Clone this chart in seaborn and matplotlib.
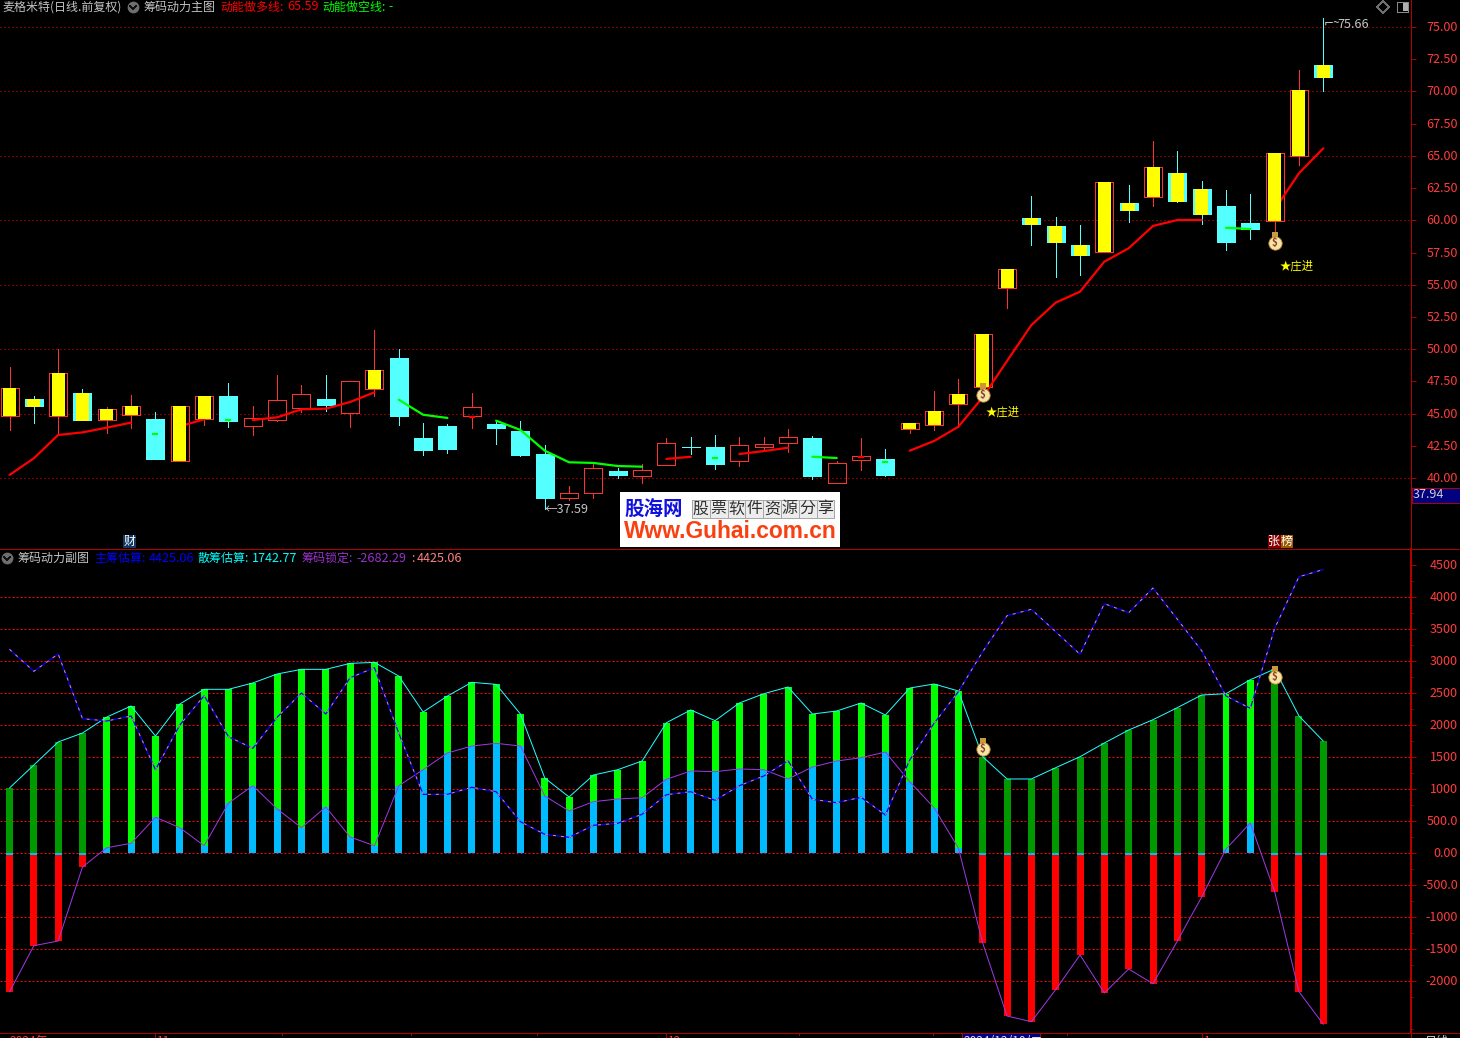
import numpy as np
import pandas as pd
import matplotlib
matplotlib.use("Agg")
import matplotlib.pyplot as plt
import matplotlib.transforms as mtrans
from matplotlib.patches import Rectangle
import seaborn as sns

nan = np.nan

# ---------------------------------------------------------------------
# Candles (price pane)
# y = red box + yellow fill, b = cyan box + yellow fill, r = hollow red, c = cyan
# ---------------------------------------------------------------------
kinds = list("ybybyycyycrrrcrycccrccc" "rrcrrcc" "rrrcrrc" "yyyyybbbybybbccyyb")
body_top = [46.99, 46.13, 48.15, 46.60, 45.36, 45.59, 44.58, 45.59, 46.36, 46.36, 44.66,
            46.06, 46.52, 46.13, 47.53, 48.38, 49.31, 43.11, 44.00, 45.51, 44.19, 43.65,
            41.86, 38.82, 40.75, 40.55, 40.60, 42.70, 42.41, 42.41, 42.54, 42.62, 43.16,
            43.11, 41.14, 41.68, 41.48, 44.27, 45.20, 46.50, 51.18, 56.22, 60.18, 59.56,
            58.08, 62.97, 61.34, 64.14, 63.67, 62.43, 61.11, 59.79, 65.22, 70.11, 72.05]
body_bot = [44.84, 45.59, 44.84, 44.52, 44.53, 44.91, 41.48, 41.34, 44.60, 44.45, 44.06,
            44.53, 45.46, 45.67, 45.07, 46.93, 44.84, 42.20, 42.27, 44.84, 43.88, 41.81,
            38.47, 38.47, 38.86, 40.24, 40.18, 41.03, 42.37, 41.11, 41.34, 42.43, 42.70,
            40.18, 39.64, 41.42, 40.24, 43.83, 44.11, 45.77, 47.09, 54.77, 59.71, 58.32,
            57.31, 57.56, 60.80, 61.83, 61.50, 60.49, 58.32, 59.32, 59.97, 65.01, 71.12]
high = [48.62, 46.36, 50.01, 46.91, 45.51, 46.44, 45.12, 45.59, 46.36, 47.37, 45.59,
        48.00, 47.22, 48.00, 47.53, 51.49, 50.01, 44.27, 44.19, 46.60, 44.50, 44.42,
        42.56, 39.38, 41.09, 40.80, 41.09, 43.13, 43.18, 43.34, 43.18, 43.18, 43.80,
        43.26, 41.32, 43.11, 42.25, 44.27, 46.75, 47.68, 51.18, 56.22, 61.89, 60.26,
        59.64, 62.97, 62.74, 66.15, 65.38, 63.05, 62.35, 62.04, 65.22, 71.66, 75.66]
low = [43.75, 44.30, 43.52, 44.50, 43.52, 43.91, 41.48, 41.34, 44.12, 43.98, 43.36,
       44.45, 45.15, 45.20, 43.98, 46.39, 44.12, 41.81, 41.97, 43.91, 42.66, 41.73,
       37.59, 38.32, 38.47, 40.03, 39.64, 41.03, 41.89, 40.70, 40.96, 42.12, 42.04,
       39.95, 39.64, 40.65, 40.16, 43.52, 43.73, 43.98, 46.60, 53.20, 58.08, 55.60,
       55.76, 57.56, 59.87, 61.11, 61.42, 59.71, 57.70, 58.55, 58.86, 64.29, 70.04]

long_line = [40.24, 41.53, 43.34, 43.54, 43.91, 44.30, nan, 44.01, 44.56, nan, 44.50,
             44.71, 45.33, 45.38, 45.90, 46.65, nan, nan, nan, 44.76, nan, nan,
             nan, nan, nan, nan, nan, 41.48, 41.65, nan, 41.86, 42.09, 42.35,
             nan, nan, 41.62, nan, 42.12, 42.87, 43.98, 46.27, 49.08, 51.87, 53.61,
             54.46, 56.79, 57.83, 59.56, 60.02, 60.02, nan, nan, 60.85, 63.65, 65.59]
short_line = [nan, nan, nan, nan, nan, nan, 43.42, nan, nan, 44.50, nan,
              nan, nan, nan, nan, nan, 46.08, 44.91, 44.66, nan, 44.45, 43.73,
              42.12, 41.22, 41.17, 40.93, 40.88, nan, nan, 41.55, nan, nan, nan,
              41.65, 41.55, nan, 41.24, nan, nan, nan, nan, nan, nan, nan,
              nan, nan, nan, nan, nan, nan, 59.42, 59.32, nan, nan, nan]

# ---------------------------------------------------------------------
# Indicator pane
# ---------------------------------------------------------------------
retail = [1011, 1370, 1730, 1870, 2120, 2292, 1823, 2323, 2553, 2553, 2652,
          2792, 2865, 2865, 2958, 2974, 2760, 2198, 2448, 2662, 2630, 2167,
          1167, 870, 1214, 1297, 1433, 2031, 2230, 2063, 2339, 2484, 2589,
          2167, 2214, 2339, 2151, 2573, 2636, 2527, 1500, 1152, 1152, 1328,
          1500, 1714, 1917, 2078, 2266, 2464, 2484, 2703, 2870, 2136, 1742.77]
lock = [-2176, -1453, -1380, -223, 78, 147, 553, 391, 109, 776, 1047,
        683, 391, 714, 245, 109, 1047, 1297, 1558, 1667, 1709, 1667,
        886, 652, 797, 839, 859, 1147, 1277, 1266, 1308, 1297, 1152,
        1339, 1433, 1484, 1573, 1109, 703, 73, -1411, -2552, -2640, -2140,
        -1598, -2192, -1817, -2047, -1380, -692, 58, 464, -609, -2172, -2682.29]
main = [3178, 2834, 3105, 2094, 2058, 2136, 1297, 1995, 2453, 1812, 1631,
        2116, 2495, 2167, 2734, 2891, 1866, 912, 912, 1022, 953, 484,
        287, 240, 428, 459, 600, 906, 953, 819, 1047, 1198, 1437,
        834, 781, 866, 589, 1448, 2022, 2516, 3141, 3703, 3803, 3453,
        3100, 3891, 3750, 4136, 3647, 3156, 2448, 2256, 3506, 4312, 4425.06]

price_ticks = [75.0 - 2.5 * k for k in range(15)]
price_grid = [75, 70, 65, 60, 55, 50, 45, 40]
sub_ticks = [4500, 4000, 3500, 3000, 2500, 2000, 1500, 1000, 500, 0, -500, -1000, -1500, -2000]
sub_labels = ["4500", "4000", "3500", "3000", "2500", "2000", "1500", "1000", "500.0",
              "0.00", "-500.0", "-1000", "-1500", "-2000"]
bag_index = [40, 52]
bag_price = [46.48, 58.24]
bag_sub = [1620, 2745]
star_index = [40.1, 52.2]
star_price = [45.13, 56.45]
date_ticks_x = [155, 282, 411, 537, 666, 799, 933, 1067, 1202]

W, H = 1460, 1038
SPACING = 24.33
AXIS_RED = "#b00000"
LABEL_RED = "#ff3c3c"
GRAY = "#c4c4c4"
CANDLE_CYAN = "#54ffff"
BOX_RED = "#ff3232"

sns.set_theme(style="dark", rc={"axes.facecolor": "black", "figure.facecolor": "black",
                                "lines.antialiased": False, "patch.antialiased": False})
plt.rcParams["font.family"] = ["Noto Sans CJK SC", "DejaVu Sans"]
FS = 8.64
NUM_FS = 9.1

fig = plt.figure(figsize=(W / 100, H / 100), dpi=100)
DIV_Y, BOTTOM_Y, AXIS_X = 549, 1032.5, 1411
ax_top = fig.add_axes([0, 1 - DIV_Y / H, AXIS_X / W, DIV_Y / H])
ax_sub = fig.add_axes([0, 1 - BOTTOM_Y / H, AXIS_X / W, (BOTTOM_Y - DIV_Y) / H])
ov = fig.add_axes([0, 0, 1, 1], zorder=10)
ov.set_xlim(0, W)
ov.set_ylim(H, 0)
ov.axis("off")

idx = np.arange(len(kinds))


def draw_line(ax, values, color, lw, zorder=4):
    df = pd.DataFrame({"x": idx, "y": values})
    df["seg"] = df["y"].isna().cumsum()
    df = df.dropna()
    sizes = df.groupby("seg")["x"].transform("size")
    before = len(ax.lines)
    sns.lineplot(data=df[sizes > 1], x="x", y="y", units="seg", estimator=None, color=color,
                 ax=ax, legend=False, zorder=zorder)
    # lineplot keeps its own width, so set it on the artists
    for line in ax.lines[before:]:
        line.set_linewidth(lw)
        line.set_antialiased(True)
    if (sizes == 1).any():
        sns.scatterplot(data=df[sizes == 1], x="x", y="y", marker="_", s=14, color=color,
                        linewidth=lw, ax=ax, legend=False, zorder=zorder)


def draw_grid(ax, levels, dash, color):
    for lvl in levels:
        ax.axhline(lvl, color=color, lw=0.72, ls=dash, zorder=0.5, antialiased=True, snap=True)


def draw_bars(ax, x, y, color):
    sns.barplot(x=x, y=y, native_scale=True, color=color, saturation=1, width=7 / SPACING,
                errorbar=None, linewidth=0, ax=ax, zorder=2)


def draw_bag(ax, x, y):
    neck = mtrans.offset_copy(ax.transData, fig=fig, y=6, units="points")
    ax.scatter(x, y, s=14, marker="s", color="#c89a3a", transform=neck, zorder=7, linewidths=0)
    ax.scatter(x, y, s=92, marker="o", color="#f6e3a8", edgecolors="#b8842a", linewidths=0.6, zorder=7)
    for xi, yi in zip(x, y):
        ax.text(xi, yi, "$", color="#8a3a20", fontsize=7, ha="center", va="center",
                fontweight="bold", zorder=8)


def style_axis(ax, ticks, labels, ylim):
    ax.set_xlim((0 - 9.5) / SPACING, (AXIS_X - 9.5) / SPACING)
    ax.set_ylim(*ylim)
    ax.set_xticks([])
    ax.set_xlabel("")
    ax.set_ylabel("")
    ax.grid(False)
    for s in ["top", "left", "bottom"]:
        ax.spines[s].set_visible(False)
    ax.spines["right"].set_visible(True)
    ax.spines["right"].set_color(AXIS_RED)
    ax.spines["right"].set_linewidth(0.72)
    ax.yaxis.tick_right()
    ax.set_yticks(ticks)
    ax.set_yticklabels(labels)
    ax.tick_params(axis="y", length=3.6, width=0.72, color=AXIS_RED, labelcolor=LABEL_RED,
                   labelsize=NUM_FS, pad=30.2, right=True)
    # the CJK face sits low, lift labels a pixel
    lift = mtrans.ScaledTranslation(0, 1 / 100, fig.dpi_scale_trans)
    for t in ax.get_yticklabels():
        t.set_ha("right")
        t.set_transform(t.get_transform() + lift)


# price pane --------------------------------------------------------------------
top = np.array(body_top)
bot = np.array(body_bot)
kind = np.array(kinds)
draw_grid(ax_top, price_grid, (0, (1, 3)), "#ff0000")

wick_colors = [CANDLE_CYAN if k in "cb" else BOX_RED for k in kinds]
ax_top.vlines(idx, top, high, colors=wick_colors, lw=0.72, zorder=1)
ax_top.vlines(idx, low, bot, colors=wick_colors, lw=0.72, zorder=1)

is_cyan = np.isin(kind, ["c", "b"])
ax_top.bar(idx[is_cyan], (top - bot)[is_cyan], bottom=bot[is_cyan], width=18 / SPACING,
           color=CANDLE_CYAN, edgecolor=CANDLE_CYAN, linewidth=0.4, zorder=2)
ax_top.bar(idx[~is_cyan], (top - bot)[~is_cyan], bottom=bot[~is_cyan], width=18 / SPACING,
           facecolor="none", edgecolor=BOX_RED, linewidth=0.5, zorder=2)

draw_line(ax_top, long_line, "#ff0000", 1.6)
draw_line(ax_top, short_line, "#00ff00", 1.6)

# yellow fill hides the lines that run behind it
is_y = np.isin(kind, ["y", "b"])
# the yellow of a cyan candle hangs about a pixel under the body
yellow_bot = np.where(kind == "b", bot - 0.08, bot)
ax_top.bar(idx[is_y], (top - yellow_bot)[is_y], bottom=yellow_bot[is_y], width=13 / SPACING,
           color="#ffff00", linewidth=0, zorder=5)

draw_bag(ax_top, bag_index, bag_price)
for xi, yi in zip(star_index, star_price):
    ax_top.text(xi, yi, "★庄进", color="#ffff00", fontsize=8.2, ha="left", va="center", zorder=8)
ax_top.text(22, min(low), "←37.59", color=GRAY, fontsize=NUM_FS, ha="left", va="center", zorder=8)
ax_top.text(54, max(high) - 0.45, "⌐~", color=GRAY, fontsize=FS, ha="left", va="center", zorder=8)
ax_top.text(54.58, max(high) - 0.45, "75.66", color=GRAY, fontsize=NUM_FS, ha="left", va="center", zorder=8)

style_axis(ax_top, price_ticks, [f"{p:.2f}" for p in price_ticks],
           (75 - (DIV_Y - 27) / 12.886, 75 + 27 / 12.886))

# indicator pane ----------------------------------------------------------------
rt = np.array(retail, dtype=float)
lk = np.array(lock, dtype=float)
draw_grid(ax_sub, range(-2000, 4001, 500), (0, (2, 2)), "#ff0000")

pos = lk > 0
draw_bars(ax_sub, idx[pos], rt[pos], "#00ff00")
draw_bars(ax_sub, idx[~pos], rt[~pos], "#009900")
draw_bars(ax_sub, idx[pos], lk[pos], "#00bbff")
draw_bars(ax_sub, idx[~pos], lk[~pos], "#ff0000")
# short blue stub under the zero line on the negative bars
draw_bars(ax_sub, idx[~pos], np.full((~pos).sum(), -40.0), "#00bbff")

draw_line(ax_sub, retail, "#20ffff", 0.72, zorder=4)
draw_line(ax_sub, lock, "#a038e0", 0.72, zorder=4)
draw_line(ax_sub, main, "#0000ff", 0.9, zorder=5)
n_before = len(ax_sub.lines)
sns.lineplot(x=idx, y=main, color="#ff8080", ax=ax_sub, zorder=6, estimator=None, legend=False)
for line in ax_sub.lines[n_before:]:
    line.set_linewidth(0.72)
    line.set_linestyle((0, (3, 5)))
    line.set_antialiased(True)

draw_bag(ax_sub, bag_index, bag_sub)
style_axis(ax_sub, sub_ticks, sub_labels, ((852.7 - BOTTOM_Y) / 0.064, (852.7 - DIV_Y) / 0.064))
ax_sub.set_yticks(np.arange(-2750, 4750, 500), minor=True)
ax_sub.tick_params(axis="y", which="minor", length=1.5, width=0.72, color=AXIS_RED, right=True, left=False)
ax_sub.spines["right"].set_linewidth(1.4)

# frame, headers and tags (screen furniture, in pixel coordinates) ---------------
ov.plot([0, W], [DIV_Y, DIV_Y], color=AXIS_RED, lw=0.6)
ov.plot([0, W], [BOTTOM_Y, BOTTOM_Y], color=AXIS_RED, lw=0.72)
ov.plot([AXIS_X, AXIS_X], [BOTTOM_Y, H], color=AXIS_RED, lw=0.6)
for i, x in enumerate(date_ticks_x):
    big = x in (155, 666, 1202)
    ov.plot([x, x], [BOTTOM_Y, H if big else BOTTOM_Y + 2], color=AXIS_RED, lw=0.6)


def label(x, y, s, color=GRAY, **kw):
    kw.setdefault("fontsize", FS)
    return ov.text(x, y, s, color=color, ha=kw.pop("ha", "left"), va=kw.pop("va", "center"), **kw)


def chevron(x, y):
    ov.scatter([x], [y], s=72, color="#6e6e6e", linewidths=0)
    ov.plot([x - 3, x, x + 3], [y - 1.2, y + 1.8, y - 1.2], color="#111111", lw=0.8)


label(2, 7, "麦格米特(日线.前复权)")
chevron(133, 7)
label(143, 7, "筹码动力主图")
label(220, 7, "动能做多线:", "#ff0000")
label(287, 7, "65.59", "#ff0000", fontsize=NUM_FS)
label(322, 7, "动能做空线:", "#00ff00")
label(388, 7, "-", "#00ff00")

chevron(7, 558)
label(17, 558, "筹码动力副图")
label(94, 558, "主筹估算:", "#0000ff")
label(149, 558, "4425.06", "#0000ff", fontsize=NUM_FS)
label(198, 558, "散筹估算:", "#00ffff")
label(252, 558, "1742.77", "#00ffff", fontsize=NUM_FS)
label(302, 558, "筹码锁定:", "#9932cc")
label(356, 558, "-2682.29", "#9932cc", fontsize=NUM_FS)
label(411, 558, ":", "#ff8080")
label(417, 558, "4425.06", "#ff8080", fontsize=NUM_FS)

# top right window icons
ov.scatter([1383], [7], s=40, marker="D", facecolor="none", edgecolors="#6e6e6e", linewidths=0.6)
ov.add_patch(Rectangle((1397, 2), 11, 10, fc="none", ec="#8a8a8a", lw=0.7))
ov.add_patch(Rectangle((1403, 3), 5, 8, fc="#b0b0b0", ec="none"))

# last price box
ov.add_patch(Rectangle((AXIS_X + 1, 487.5), W - AXIS_X, 15.5, fc="#000080", ec=AXIS_RED, lw=0.5))
label(1413, 494.5, "37.94", "#d0d0d0", fontsize=NUM_FS)

# bottom date strip, cut by the window edge
label(10, 1035, "2024年", LABEL_RED, va="top")
label(157, 1035, "11", LABEL_RED, va="top")
label(668, 1035, "12", LABEL_RED, va="top")
label(1204, 1035, "1", LABEL_RED, va="top")
ov.add_patch(Rectangle((962, 1033), 78, 8, fc="#000080", ec=AXIS_RED, lw=0.5))
label(964, 1035, "2024/12/10/二", "#e0e0e0", va="top")
label(1425, 1035, "日线", "#d0d0d0", va="top")

# little tags on the date row of the price pane
ov.add_patch(Rectangle((123, 535), 13, 13, fc="#103860", ec="none"))
label(129.5, 541, "财", "#ffffff", ha="center")
ov.add_patch(Rectangle((1268, 535), 12.5, 13, fc="#8a0000", ec="none"))
ov.add_patch(Rectangle((1280.5, 535), 12.5, 13, fc="#9a5a00", ec="none"))
label(1274, 541, "张", "#ffffff", ha="center")
label(1287, 541, "榜", "#ffffff", ha="center")

# watermark
ov.add_patch(Rectangle((620, 492), 220, 55, fc="white", ec="none", zorder=5))
label(624, 510, "股海网", "#1010e0", fontsize=14, fontweight="bold", zorder=6)
for k, ch in enumerate("股票软件资源分享"):
    ov.add_patch(Rectangle((692 + k * 17.8, 500), 17.8, 18, fc="#ececec", ec="#a8a8a8", lw=0.6, zorder=5.5))
    ov.text(692 + (k + 0.5) * 17.8, 509, ch, color="#303030", fontsize=11.5, ha="center", va="center", zorder=6)
ov.text(730, 532, "Www.Guhai.com.cn", color="#f84010", fontsize=16.4, fontweight="bold",
        family="Liberation Sans", ha="center", va="center", zorder=6)

fig.savefig("out.png", dpi=100, facecolor="black")
